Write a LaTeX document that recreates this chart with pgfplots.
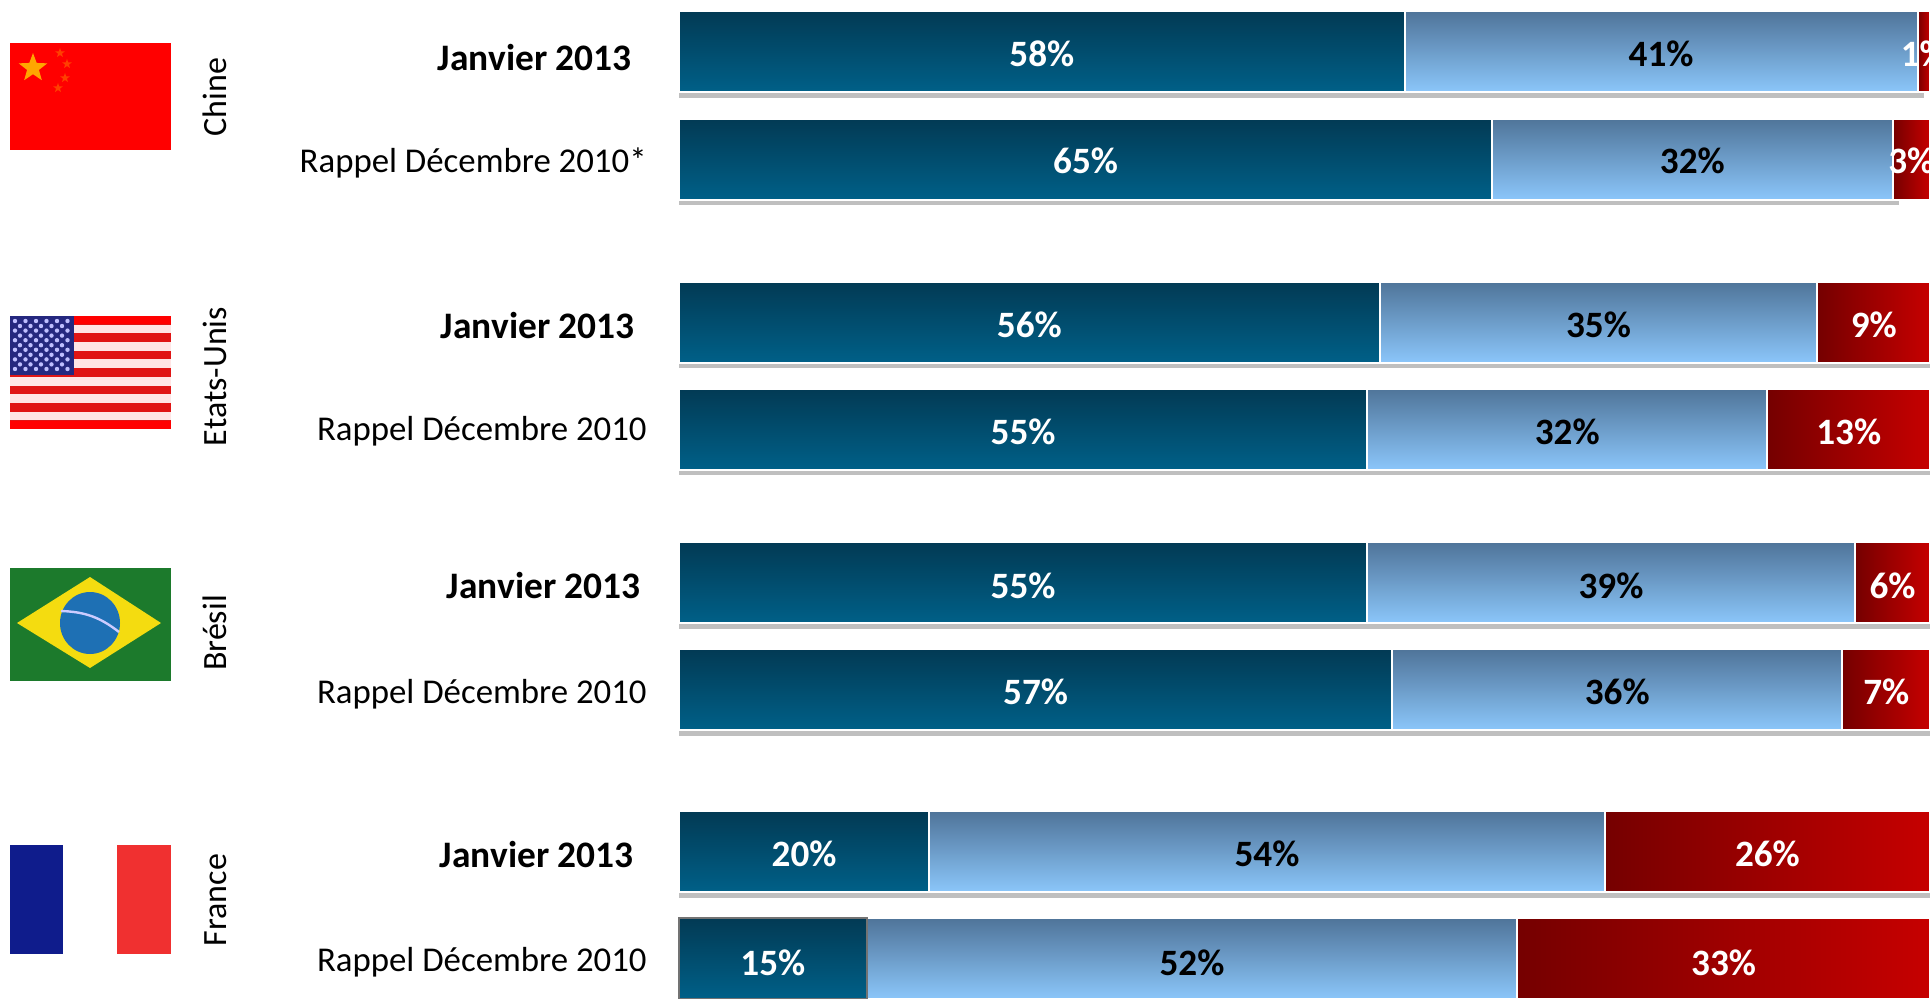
\documentclass[border=0pt]{standalone}
\usepackage{pgfplots}
\pgfplotsset{compat=1.18}
\usepackage{fontspec}
\setmainfont{Carlito}
\usetikzlibrary{shapes.geometric}
\definecolor{dbtop}{HTML}{023A54}
\definecolor{dbbot}{HTML}{006088}
\definecolor{lbtop}{HTML}{4F7499}
\definecolor{lbbot}{HTML}{8BC6FA}
\definecolor{rleft}{HTML}{750000}
\definecolor{rright}{HTML}{C60000}
\definecolor{frblue}{HTML}{0F1C8C}
\definecolor{frred}{HTML}{F03030}
\pgfplotsset{
  common/.style={
    hide axis, scale only axis, width=965pt, height=499pt,
    at={(0,0)}, anchor=south west,
    xmin=-54.28, xmax=100, ymin=0, ymax=998, y dir=reverse, clip=false},
  val/.style={draw=none, mark=none, forget plot, nodes near coords={\pgfplotspointmeta\%},
    point meta=explicit symbolic},
}
% one stacked bar: y position, then the three shares
\newcommand{\rowbars}[4]{%
\begin{axis}[common, xbar stacked, bar width=81]
\addplot[draw=white, line width=1pt, top color=dbtop, bottom color=dbbot] coordinates {(#2,#1)};
\addplot[draw=white, line width=1pt, top color=lbtop, bottom color=lbbot] coordinates {(#3,#1)};
\addplot[draw=white, line width=1pt, left color=rleft, right color=rright] coordinates {(#4,#1)};
\end{axis}}
\pgfplotstableread{
x     y     v
29    54    58
32.5  161   65
28    325   56
27.5  432   55
27.5  586   55
28.5  692   57
10    854   20
7.5   963   15
99.5  54    1
98.5  161   3
95.5  325   9
93.5  432   13
97    586   6
96.5  692   7
87    854   26
83.5  963   33
}\whitelabels
\pgfplotstableread{
x     y     v
78.5  54    41
81    161   32
73.5  325   35
71    432   32
74.5  586   39
75    692   36
47    854   54
41    963   52
}\blacklabels
\begin{document}
\begin{tikzpicture}[x=1pt,y=1pt]
\clip (0,0) rectangle (965pt,499pt);
% shadows under the bars
\begin{axis}[common]
\foreach \yy/\xe in {95/99.5,202/97.5,365/100,472/100,626/100,733/100,895/100}{
  \edef\tmp{\noexpand\addplot[draw=black!25, line width=2.6pt, forget plot] coordinates {(0,\yy) (\xe,\yy)};}
  \tmp
}
\end{axis}
% stacked bars
\rowbars{51.5}{58}{41}{1}
\rowbars{159}{65}{32}{3}
\rowbars{322}{56}{35}{9}
\rowbars{429}{55}{32}{13}
\rowbars{582.5}{55}{39}{6}
\rowbars{689.5}{57}{36}{7}
\rowbars{851.5}{20}{54}{26}
\rowbars{958.5}{15}{52}{33}
% labels on the bars
\begin{axis}[common]
\addplot[xbar, bar width=81, draw=black!55, line width=1pt, fill=none, forget plot] coordinates {(15,958.5)};
\addplot[val, every node near coord/.style={anchor=center, text=white, font=\fontsize{18.6pt}{20pt}\selectfont\bfseries}]
  table[x=x, y=y, meta=v] {\whitelabels};
\addplot[val, every node near coord/.style={anchor=center, text=black, font=\fontsize{18.6pt}{20pt}\selectfont\bfseries}]
  table[x=x, y=y, meta=v] {\blacklabels};
\end{axis}
% texts and flags, in reference pixels
\begin{scope}[x=0.5pt,y=-0.5pt,yshift=499pt]
\tikzset{jan/.style={anchor=base east, inner sep=0, font=\fontsize{18.7pt}{20pt}\selectfont\bfseries},
  rap/.style={anchor=base east, inner sep=0, font=\fontsize{17.4pt}{20pt}\selectfont},
  cty/.style={anchor=base, rotate=90, inner sep=0, font=\fontsize{17pt}{20pt}\selectfont}}
\node[jan] at (632,71) {Janvier 2013};
\node[jan] at (635,338) {Janvier 2013};
\node[jan] at (641,598) {Janvier 2013};
\node[jan] at (634,867) {Janvier 2013};
\node[rap] at (647,173) {Rappel Décembre 2010*};
\node[rap] at (647,440) {Rappel Décembre 2010};
\node[rap] at (647,703) {Rappel Décembre 2010};
\node[rap] at (647,971) {Rappel Décembre 2010};
\node[cty] at (226,97) {Chine};
\node[cty] at (226,376.5) {Etats-Unis};
\node[cty] at (226,633) {Brésil};
\node[cty] at (226,900) {France};
% China
\fill[red] (10,43) rectangle (171,150);
\node[star, star points=5, star point ratio=2.4, fill=orange!70!yellow, inner sep=0, minimum size=15pt] at (33,68) {};
\foreach \a/\b in {60/53,67/64,65/78,58/88}
  \node[star, star points=5, star point ratio=2.4, fill=orange!50!red, inner sep=0, minimum size=5pt] at (\a,\b) {};
% USA
\definecolor{usred}{HTML}{E01515}
\definecolor{usblue}{HTML}{25287F}
\fill[usred] (10,316) rectangle (171,429);
\fill[red] (10,316) rectangle (171,324);
\fill[red] (10,421) rectangle (171,429);
\foreach \i in {1,3,5,7,9,11}
  \fill[white!90!red] (10,{316+\i*8.69}) rectangle (171,{316+(\i+1)*8.69});
\fill[usblue] (10,316) rectangle (73.5,375);
\foreach \c in {0,...,5} \foreach \r in {0,...,5}
  \fill[white!75!blue] ({15+\c*10.5},{321+\r*9.6}) circle (2.2);
\foreach \c in {0,...,4} \foreach \r in {0,...,4}
  \fill[white!75!blue] ({20+\c*10.5},{326+\r*9.6}) circle (2.2);
% Brazil
\definecolor{brgreen}{HTML}{1C7A2C}
\definecolor{bryellow}{HTML}{F4DC10}
\definecolor{brblue}{HTML}{1E70B4}
\fill[brgreen] (10,568) rectangle (171,681);
\fill[bryellow] (17,623) -- (90,577) -- (161,623) -- (90,668) -- cycle;
\fill[brblue] (90,623) ellipse (30 and 31);
\draw[white!80!blue, line width=1.2pt] (61,611) to[bend left=18] (119,632);
% France
\fill[frblue] (10,845) rectangle (63,954);
\fill[frred] (117,845) rectangle (171,954);
\end{scope}
\end{tikzpicture}
\end{document}
